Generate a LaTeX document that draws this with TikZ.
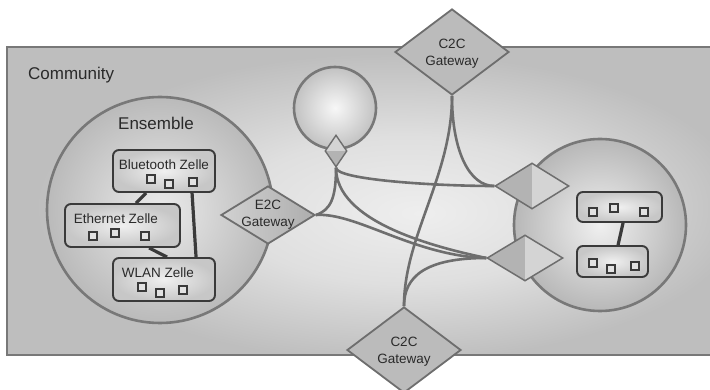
\documentclass[tikz,border=0pt]{standalone}
\usepackage{fontspec}
\setmainfont{Liberation Sans}
\usetikzlibrary{shapes.geometric}
\definecolor{cA}{HTML}{EEEEEE}
\definecolor{cB}{HTML}{DFDFDF}
\definecolor{cC}{HTML}{BEBEBE}
\definecolor{lineC}{HTML}{6E6E6E}
\definecolor{borderC}{HTML}{787878}
\definecolor{boxC}{HTML}{3A3A3A}
\definecolor{txtC}{HTML}{2A2A2A}
\definecolor{gwC}{HTML}{BBBBBB}
\definecolor{rdDark}{HTML}{B3B3B3}
\definecolor{rdLight}{HTML}{D4D4D4}
\definecolor{sqFill}{HTML}{E2E2E2}
\pgfdeclareradialshading{commshade}{\pgfpoint{4bp}{-2bp}}{color(0bp)=(cA); color(12bp)=(cB); color(25bp)=(cC); color(50bp)=(cC)}
\pgfdeclarelayer{bglayer}
\pgfdeclarelayer{linelayer}
\pgfsetlayers{bglayer,linelayer,main}

\begin{document}
\begin{tikzpicture}[x=1pt,y=-1pt,
  conn/.style={draw=lineC, line width=2.6pt},
  celllink/.style={draw=boxC, line width=3.2pt},
  ring/.style={circle, draw=borderC, line width=2.6pt, inner sep=0pt},
  gw/.style={diamond, draw=lineC, line width=1.8pt, fill=gwC, inner sep=0pt, minimum width=114pt, minimum height=86pt},
  rd/.style={diamond, draw=lineC, line width=1.5pt, fill=rdLight, inner sep=0pt,
    path picture={\fill[rdDark] (path picture bounding box.south west) rectangle (path picture bounding box.north);}},
  sdia/.style={diamond, draw=lineC, line width=1.4pt, fill=rdLight, inner sep=0pt,
    path picture={\fill[rdDark] (path picture bounding box.south west) rectangle (path picture bounding box.east);}},
  zbox/.style={rectangle, rounded corners=6pt, draw=boxC, line width=1.9pt, inner sep=0pt, shade, inner color=white!94!black, outer color=white!78!black},
  sq/.style={rectangle, draw=boxC, line width=1.2pt, fill=sqFill, minimum size=8pt, inner sep=0pt},
  zlbl/.style={font=\fontsize{13.5}{17}\selectfont, text=txtC, inner sep=0pt},
  gwtxt/.style={align=center, font=\fontsize{13.5}{17}\selectfont, text=txtC, inner sep=0pt},
  bigL/.style={font=\fontsize{17}{20}\selectfont, text=txtC, inner sep=0pt}
]
\path[use as bounding box] (0,0) rectangle (710,390);

\begin{pgfonlayer}{bglayer}
  \fill[white] (0,0) rectangle (710,390);
  \path[shade, shading=commshade, draw=borderC, line width=2pt] (7,47) rectangle (718,355);
  \node[ring, minimum size=226pt, shade, inner color=white!92!black, outer color=white!73!black] (ens) at (160,210) {};
  \node[ring, minimum size=82pt, shade, inner color=white!97!black, outer color=white!76!black] (topc) at (335,108) {};
  \node[ring, minimum size=172pt, shade, inner color=white!94!black, outer color=white!72!black] (rc) at (600,225) {};
\end{pgfonlayer}

% labels
\node[bigL, anchor=base west] (comm) at (28,80) {Community};
\node[bigL, anchor=base] (ensL) at (156,130) {Ensemble};

% gateways
\node[gw] (c2ct) at (452,52) {};
\node[gw] (c2cb) at (404,350) {};
\node[diamond, draw=lineC, line width=1.8pt, inner sep=0pt, minimum width=94pt, minimum height=58pt,
      left color=white!82!black, right color=white!68!black] (e2c) at (268,215) {};
\node[gwtxt] (c2ctT) at ([yshift=-2pt]c2ct.center) {C2C\\Gateway};
\node[gwtxt] (c2cbT) at ([yshift=-2pt]c2cb.center) {C2C\\Gateway};
\node[gwtxt] (e2cT) at (e2c.center) {E2C\\Gateway};

\node[sdia, minimum width=22pt, minimum height=32pt] (sd) at (336,151) {};
\node[rd, minimum width=74pt, minimum height=46pt] (rd1) at (532,186) {};
\node[rd, minimum width=76pt, minimum height=46pt] (rd2) at (525,258) {};

% cells
\node[zbox, minimum width=102pt, minimum height=42pt] (bt) at (164,171) {};
\node[zbox, minimum width=115pt, minimum height=43pt] (eth) at (122.5,225.5) {};
\node[zbox, minimum width=102pt, minimum height=43pt] (wl) at (164,279.5) {};
\node[zbox, minimum width=85pt, minimum height=30pt] (rb1) at (619.5,207) {};
\node[zbox, minimum width=71pt, minimum height=31pt] (rb2) at (612.5,261.5) {};

\node[zlbl, anchor=base] (btL) at (164,170) {Bluetooth Zelle};
\node[zlbl, anchor=base] (ethL) at (116,224) {Ethernet Zelle};
\node[zlbl, anchor=base] (wlL) at (158,278) {WLAN Zelle};

\node[sq] (bt1) at (151,179) {};
\node[sq] (bt2) at (169,184) {};
\node[sq] (bt3) at (193,182) {};
\node[sq] (et1) at (93,236) {};
\node[sq] (et2) at (115,233) {};
\node[sq] (et3) at (145,236) {};
\node[sq] (wl1) at (142,287) {};
\node[sq] (wl2) at (160,293) {};
\node[sq] (wl3) at (183,290) {};
\node[sq] (r11) at (593,212) {};
\node[sq] (r12) at (614,208) {};
\node[sq] (r13) at (644,212) {};
\node[sq] (r21) at (593,263) {};
\node[sq] (r22) at (611,269) {};
\node[sq] (r23) at (635,266) {};

% cell links
\draw[celllink] ([xshift=34pt]bt.south west) -- ([xshift=72pt]eth.north west);
\draw[celllink] ([xshift=80pt]bt.south west) -- ([xshift=84pt]wl.north west);
\draw[celllink] ([xshift=85pt]eth.south west) -- ([xshift=55pt]wl.north west);
\draw[celllink] ([xshift=47pt]rb1.south west) -- ([xshift=42pt]rb2.north west);

% connectors
\begin{pgfonlayer}{linelayer}
  \draw[conn] (c2ct.south) .. controls +(0,55) and +(-25,0) .. (rd1.west);
  \draw[conn] (c2ct.south) .. controls +(0,80) and +(0,-70) .. (c2cb.north);
  \draw[conn] (c2cb.north) .. controls +(0,-30) and +(-60,0) .. (rd2.west);
  \draw[conn] (sd.south) .. controls +(0,12) and +(-60,0) .. (rd1.west);
  \draw[conn] (sd.south) .. controls +(0,30) and +(15,-5) .. (e2c.east);
  \draw[conn] (sd.south) .. controls +(0,53) and +(-57,-12) .. (rd2.west);
  \draw[conn] (e2c.east) .. controls +(40,-3) and +(-72,-2) .. (rd2.west);
\end{pgfonlayer}
\end{tikzpicture}
\end{document}
